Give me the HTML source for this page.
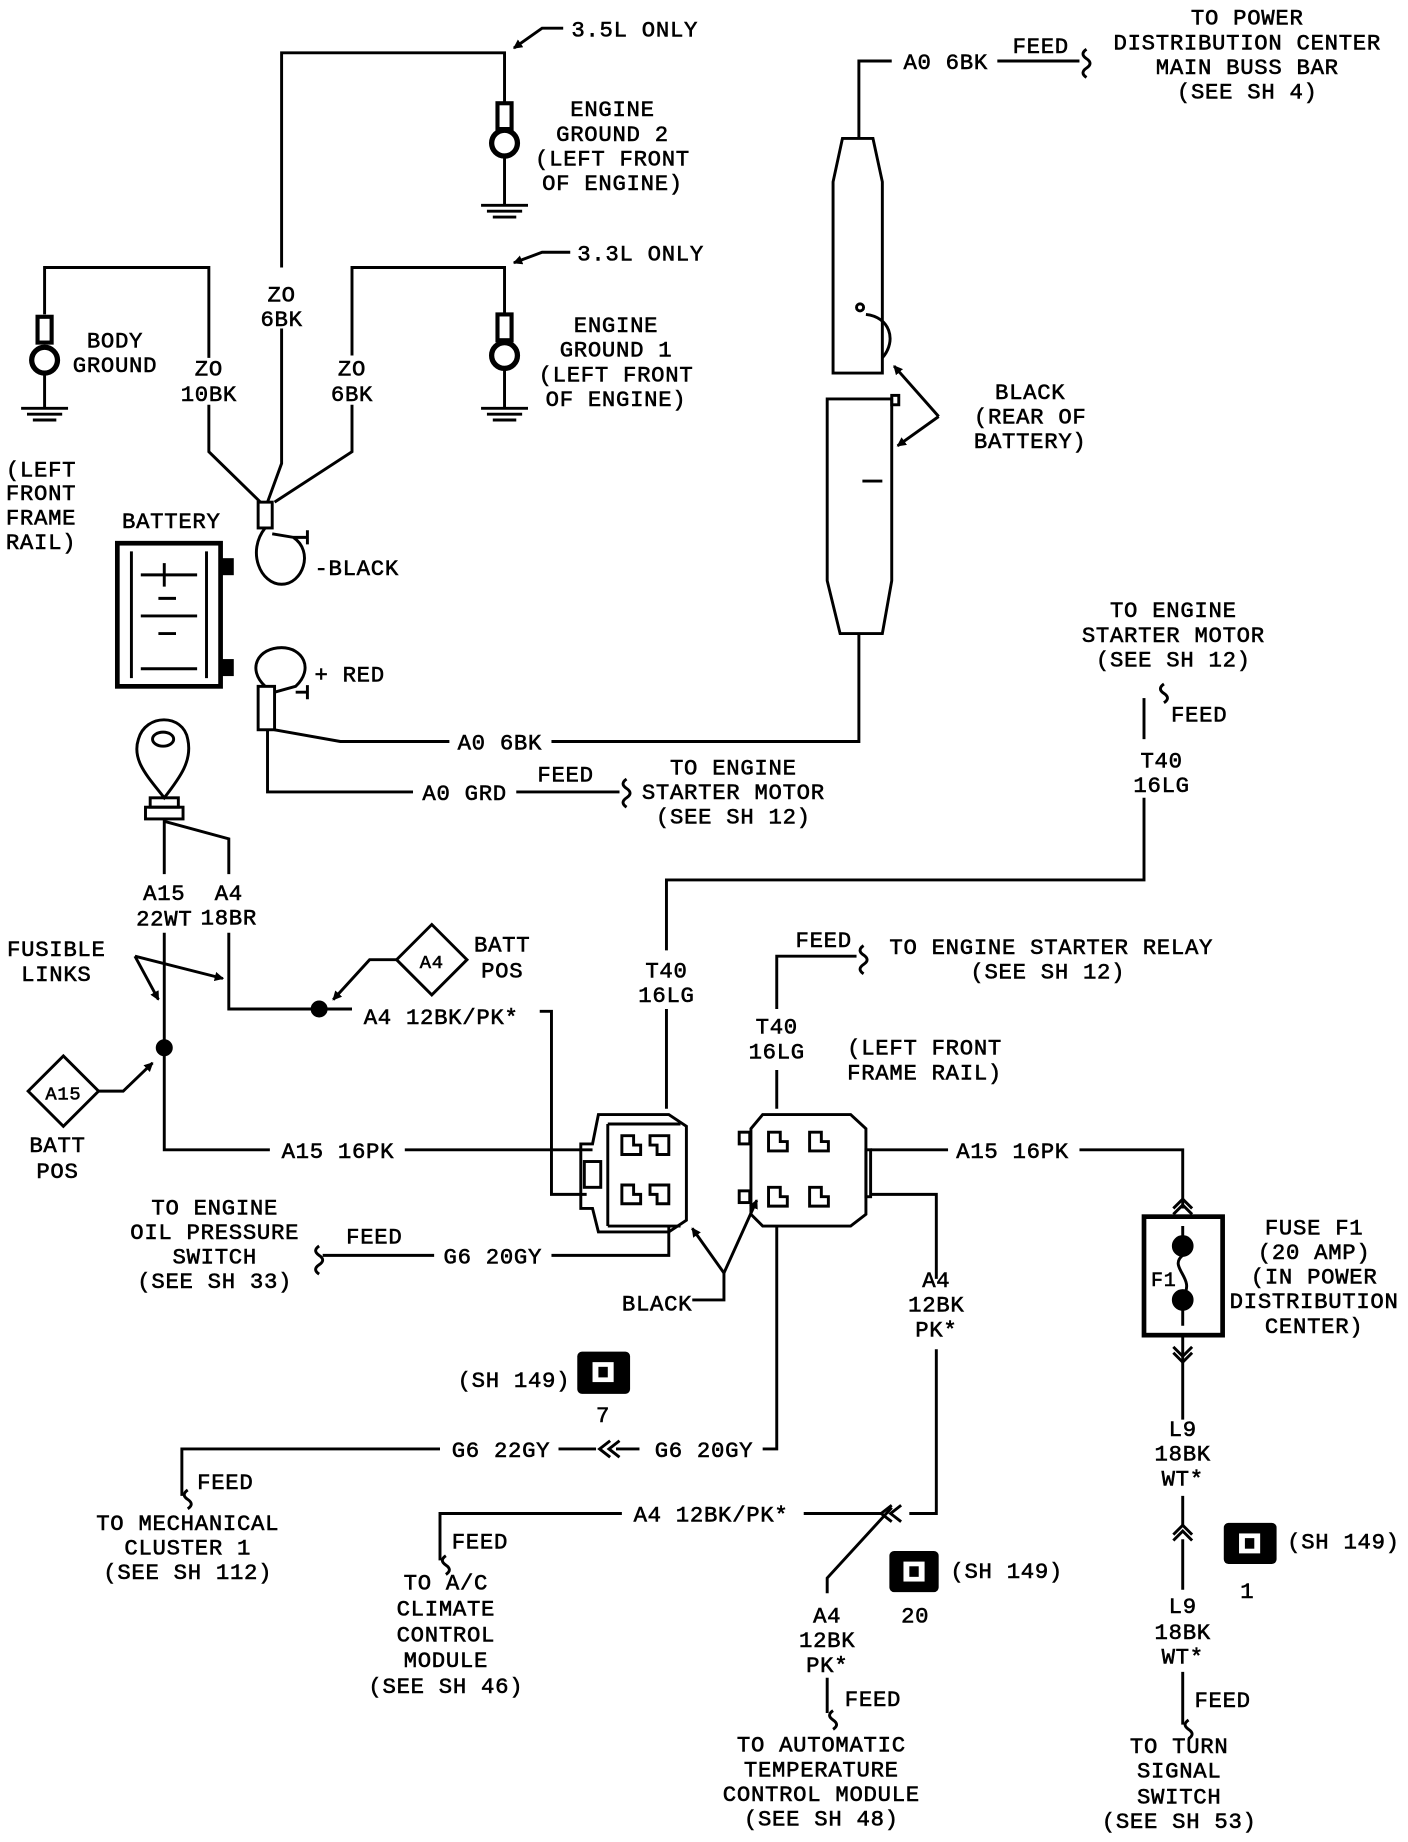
<!DOCTYPE html>
<html><head><meta charset="utf-8"><style>
html,body{margin:0;padding:0;background:#fff;}
svg{display:block;}
text{font-family:"Liberation Mono",monospace;font-size:19px;letter-spacing:0.6px;fill:#000;stroke:#000;stroke-width:0.5px;}
.c{text-anchor:middle;}
</style></head><body>
<svg width="1408" height="1842" viewBox="0 0 1200 1570" preserveAspectRatio="none" xmlns="http://www.w3.org/2000/svg">
<defs>
<marker id="ar" markerWidth="8" markerHeight="8" refX="7" refY="4" orient="auto" markerUnits="userSpaceOnUse"><path d="M0,0 L8,4 L0,8 z" fill="#000"/></marker>
</defs>
<g fill="none" stroke="#000" stroke-width="2.5">
<path d="M240,228 V45 H430 V88"/>
<path d="M480,24 H462 L438,41" marker-end="url(#ar)"/>
<path d="M300,303 V228 H430 V268"/>
<path d="M486,215 H462 L438,224" marker-end="url(#ar)"/>
<path d="M240,280 V395 L228,428"/>
<path d="M178,305 V228 H38 V268"/>
<path d="M178,345 V385 L222,428"/>
<path d="M300,345 V385 L234,428"/>
<rect x="424" y="88" width="12" height="22" stroke-width="3.5"/><circle cx="430" cy="122" r="11" stroke-width="4.5"/>
<path d="M430,134 V175 M410,175 H450 M415,180 H445 M420,185 H440"/>
<rect x="424" y="268" width="12" height="22" stroke-width="3.5"/><circle cx="430" cy="303" r="11" stroke-width="4.5"/>
<path d="M430,315 V348 M410,348 H450 M415,353 H445 M420,358 H440"/>
<rect x="32" y="270" width="12" height="22" stroke-width="3.5"/><circle cx="38" cy="307" r="11" stroke-width="4.5"/>
<path d="M38,319 V348 M18,348 H58 M23,353 H53 M28,358 H48"/>
<rect x="220" y="428" width="12" height="22"/>
<path d="M226,450 C210,470 222,498 240,498 C258,498 268,470 250,458 L232,455"/>
<path d="M250,458 H262 M262,452 V464"/>
<rect x="100" y="463" width="88" height="122" stroke-width="4"/>
<path d="M112,470 V578 M176,470 V578 M120,490 H168 M135,510 H150 M120,525 H168 M135,540 H150 M140,480 V500 M120,570 H168"/>
<rect x="188" y="477" width="10" height="12" fill="#000"/><rect x="188" y="563" width="10" height="12" fill="#000"/>
<path d="M226,585 C210,570 220,552 240,552 C258,552 268,570 252,585 L234,590"/>
<rect x="220" y="585" width="14" height="37"/>
<path d="M252,590 H262 M262,584 V596"/>
<path d="M228,622 V675 H352"/>
<path d="M440,675 H528"/>
<path d="M534,664 q-6,4 0,8 q6,4 0,8 q-6,4 0,8"/>
<path d="M234,622 L290,632 H383"/>
<path d="M470,632 H732 V540"/>
<path d="M705,340 H760 V495 L752,540 H716 L705,495 Z"/>
<rect x="760" y="337" width="6" height="8"/>
<path d="M735,410 H752"/>
<path d="M718,118 H744 L752,155 V318 H710 V155 Z"/>
<circle cx="733" cy="262" r="3"/>
<path d="M738,268 C758,270 765,290 752,305"/>
<path d="M732,118 V52 H760"/>
<path d="M850,52 H920"/>
<path d="M926,42 q-6,4 0,8 q6,4 0,8 q-6,4 0,8"/>
<path d="M800,355 L762,312" marker-end="url(#ar)"/>
<path d="M800,355 L765,380" marker-end="url(#ar)"/>
<path d="M140,680 C126,662 112,648 118,630 C124,608 156,608 160,630 C164,648 154,662 140,680 Z"/>
<ellipse cx="139" cy="630" rx="9" ry="6"/>
<rect x="128" y="680" width="24" height="8"/><rect x="124" y="688" width="32" height="10"/>
<path d="M140,698 V745 M140,795 V980 H230"/>
<path d="M345,980 H505"/>
<path d="M140,700 L195,715 V745 M195,795 V860 H300"/>
<circle cx="272" cy="860" r="6" fill="#000"/>
<circle cx="140" cy="893" r="6" fill="#000"/>
<path d="M460,862 H470 V1018 H500"/>
<path d="M54,900 L84,930 L54,960 L24,930 Z"/>
<path d="M84,930 H105 L130,906" marker-end="url(#ar)"/>
<path d="M368,788 L398,818 L368,848 L338,818 Z"/>
<path d="M338,818 H315 L284,852" marker-end="url(#ar)"/>
<path d="M115,815 L135,852" marker-end="url(#ar)"/>
<path d="M115,815 L190,834" marker-end="url(#ar)"/>
<path d="M510,950 H570 L585,960 V1040 L570,1050 H510 L505,1030 H495 V975 H505 Z"/>
<path d="M518,958 H580 M518,1045 H580 M518,958 V1045"/>
<path d="M530,968 h10 v8 h6 v8 h-16 z M560,968 h10 v16 h-10 v-8 h-6 v-8 z M530,1010 h10 v8 h6 v8 h-16 z M560,1010 h10 v16 h-10 v-8 h-6 v-8 z"/>
<rect x="498" y="990" width="14" height="22"/>
<path d="M568,945 V860 M568,810 V750 H975 V680"/>
<path d="M975,630 V595"/>
<path d="M992,583 q-6,4 0,8 q6,4 0,8"/>
<path d="M650,950 H725 L738,962 V1035 L725,1045 H650 L640,1035 V962 Z"/>
<rect x="630" y="965" width="9" height="10"/><rect x="630" y="1015" width="9" height="10"/>
<rect x="738" y="980" width="4" height="40"/>
<path d="M655,965 h10 v8 h6 v8 h-16 z M690,965 h10 v8 h6 v8 h-16 z M655,1012 h10 v8 h6 v8 h-16 z M690,1012 h10 v8 h6 v8 h-16 z"/>
<path d="M742,980 H808 M920,980 H1008 V1030"/>
<path d="M742,1018 H798 V1090 M798,1150 V1290 H775"/>
<path d="M662,945 V912 M662,860 V815 H730"/>
<path d="M736,806 q-6,4 0,8 q6,4 0,8 q-6,4 0,8"/>
<path d="M662,1045 V1235 H650 M545,1235 H525 M476,1235 H508 M375,1235 H155 V1275"/>
<path d="M520,1228 L511,1235 L520,1242 M528,1228 L519,1235 L528,1242"/>
<path d="M160,1270 q-6,4 0,8 q6,4 0,8"/>
<path d="M768,1283 L759,1290 L768,1297 M760,1283 L751,1290 L760,1297"/>
<path d="M752,1290 H685 M530,1290 H375 V1330"/>
<path d="M380,1326 q-6,4 0,8 q6,4 0,8"/>
<path d="M760,1285 L705,1345 V1358 M705,1430 V1460"/>
<path d="M710,1458 q-6,4 0,8 q6,4 0,8"/>
<path d="M570,1045 V1070 H470 M370,1070 H275"/>
<path d="M272,1062 q-6,4 0,8 q6,4 0,8 q-6,4 0,8"/>
<path d="M590,1108 H617 V1085"/>
<path d="M617,1085 L590,1047" marker-end="url(#ar)"/>
<path d="M617,1085 L645,1023" marker-end="url(#ar)"/>
<path d="M1000,1035 L1008,1027 L1016,1035 M1000,1030 L1008,1022 L1016,1030"/>
<rect x="975" y="1037" width="67" height="101" stroke-width="4"/>
<path d="M1008,1045 V1060 M1008,1115 V1130 M1008,1070 C995,1080 1020,1090 1008,1105"/>
<circle cx="1008" cy="1062" r="8" fill="#000"/><circle cx="1008" cy="1108" r="8" fill="#000"/>
<path d="M1000,1148 L1008,1156 L1016,1148 M1000,1153 L1008,1161 L1016,1153"/>
<path d="M1008,1140 V1210 M1008,1275 V1300 M1008,1312 V1355 M1008,1425 V1470"/>
<path d="M1000,1308 L1008,1300 L1016,1308 M1000,1313 L1008,1305 L1016,1313"/>
<path d="M1013,1466 q-6,4 0,8 q6,4 0,8"/>
</g>
<g>
<rect x="492" y="1152" width="45" height="36" rx="4" fill="#000"/><rect x="505" y="1161" width="18" height="17" fill="#fff"/><rect x="510" y="1165" width="8" height="9" fill="#000"/>
<rect x="758" y="1322" width="42" height="35" rx="4" fill="#000"/><rect x="770" y="1331" width="18" height="17" fill="#fff"/><rect x="775" y="1335" width="8" height="9" fill="#000"/>
<rect x="1043" y="1298" width="45" height="35" rx="4" fill="#000"/><rect x="1056" y="1307" width="18" height="17" fill="#fff"/><rect x="1061" y="1311" width="8" height="9" fill="#000"/>
</g>
<g>
<text x="487" y="31">3.5L ONLY</text>
<text x="492" y="222">3.3L ONLY</text>
<text class="c" x="522" y="99">ENGINE</text><text class="c" x="522" y="120">GROUND 2</text><text class="c" x="522" y="141">(LEFT FRONT</text><text class="c" x="522" y="162">OF ENGINE)</text>
<text class="c" x="525" y="283">ENGINE</text><text class="c" x="525" y="304">GROUND 1</text><text class="c" x="525" y="325">(LEFT FRONT</text><text class="c" x="525" y="346">OF ENGINE)</text>
<text class="c" x="240" y="257">ZO</text><text class="c" x="240" y="278">6BK</text>
<text class="c" x="178" y="320">ZO</text><text class="c" x="178" y="342">10BK</text>
<text class="c" x="300" y="320">ZO</text><text class="c" x="300" y="342">6BK</text>
<text class="c" x="98" y="296">BODY</text><text class="c" x="98" y="317">GROUND</text>
<text x="5" y="406">(LEFT</text><text x="5" y="426">FRONT</text><text x="5" y="447">FRAME</text><text x="5" y="468">RAIL)</text>
<text class="c" x="146" y="450">BATTERY</text>
<text x="268" y="490">-BLACK</text>
<text x="268" y="581">+ RED</text>
<text x="390" y="639">A0 6BK</text>
<text x="360" y="682">A0 GRD</text>
<text x="458" y="666">FEED</text>
<text class="c" x="625" y="660">TO ENGINE</text><text class="c" x="625" y="681">STARTER MOTOR</text><text class="c" x="625" y="702">(SEE SH 12)</text>
<text x="770" y="59">A0 6BK</text>
<text x="863" y="45">FEED</text>
<text class="c" x="1063" y="21">TO POWER</text><text class="c" x="1063" y="42">DISTRIBUTION CENTER</text><text class="c" x="1063" y="63">MAIN BUSS BAR</text><text class="c" x="1063" y="84">(SEE SH 4)</text>
<text class="c" x="878" y="340">BLACK</text><text class="c" x="878" y="361">(REAR OF</text><text class="c" x="878" y="382">BATTERY)</text>
<text class="c" x="1000" y="526">TO ENGINE</text><text class="c" x="1000" y="547">STARTER MOTOR</text><text class="c" x="1000" y="568">(SEE SH 12)</text>
<text x="998" y="615">FEED</text>
<text class="c" x="990" y="654">T40</text><text class="c" x="990" y="675">16LG</text>
<text class="c" x="140" y="767">A15</text><text class="c" x="140" y="789">22WT</text>
<text class="c" x="195" y="767">A4</text><text class="c" x="195" y="788">18BR</text>
<text class="c" x="48" y="815">FUSIBLE</text><text class="c" x="48" y="836">LINKS</text>
<text class="c" x="54" y="937" style="font-size:16px">A15</text>
<text class="c" x="49" y="982">BATT</text><text class="c" x="49" y="1004">POS</text>
<text class="c" x="368" y="825" style="font-size:16px">A4</text>
<text class="c" x="428" y="811">BATT</text><text class="c" x="428" y="833">POS</text>
<text x="310" y="873">A4 12BK/PK*</text>
<text x="240" y="987">A15 16PK</text>
<text class="c" x="568" y="833">T40</text><text class="c" x="568" y="854">16LG</text>
<text class="c" x="662" y="881">T40</text><text class="c" x="662" y="902">16LG</text>
<text x="678" y="807">FEED</text>
<text x="758" y="813">TO ENGINE STARTER RELAY</text>
<text class="c" x="893" y="834">(SEE SH 12)</text>
<text class="c" x="788" y="899">(LEFT FRONT</text><text class="c" x="788" y="920">FRAME RAIL)</text>
<text x="815" y="987">A15 16PK</text>
<text class="c" x="1120" y="1052">FUSE F1</text><text class="c" x="1120" y="1073">(20 AMP)</text><text class="c" x="1120" y="1094">(IN POWER</text><text class="c" x="1120" y="1115">DISTRIBUTION</text><text class="c" x="1120" y="1136">CENTER)</text>
<text x="981" y="1096" style="font-size:17px">F1</text>
<text class="c" x="183" y="1035">TO ENGINE</text><text class="c" x="183" y="1056">OIL PRESSURE</text><text class="c" x="183" y="1077">SWITCH</text><text class="c" x="183" y="1098">(SEE SH 33)</text>
<text x="295" y="1060">FEED</text>
<text x="378" y="1077">G6 20GY</text>
<text x="530" y="1117">BLACK</text>
<text class="c" x="798" y="1097">A4</text><text class="c" x="798" y="1118">12BK</text><text class="c" x="798" y="1139">PK*</text>
<text x="390" y="1182">(SH 149)</text>
<text class="c" x="514" y="1212">7</text>
<text x="385" y="1242">G6 22GY</text>
<text x="558" y="1242">G6 20GY</text>
<text x="168" y="1269">FEED</text>
<text class="c" x="160" y="1304">TO MECHANICAL</text><text class="c" x="160" y="1325">CLUSTER 1</text><text class="c" x="160" y="1346">(SEE SH 112)</text>
<text x="540" y="1297">A4 12BK/PK*</text>
<text x="385" y="1320">FEED</text>
<text class="c" x="380" y="1355">TO A/C</text><text class="c" x="380" y="1377">CLIMATE</text><text class="c" x="380" y="1399">CONTROL</text><text class="c" x="380" y="1421">MODULE</text><text class="c" x="380" y="1443">(SEE SH 46)</text>
<text x="810" y="1345">(SH 149)</text>
<text class="c" x="780" y="1383">20</text>
<text class="c" x="705" y="1383">A4</text><text class="c" x="705" y="1404">12BK</text><text class="c" x="705" y="1425">PK*</text>
<text x="720" y="1454">FEED</text>
<text class="c" x="700" y="1493">TO AUTOMATIC</text><text class="c" x="700" y="1514">TEMPERATURE</text><text class="c" x="700" y="1535">CONTROL MODULE</text><text class="c" x="700" y="1556">(SEE SH 48)</text>
<text class="c" x="1008" y="1224">L9</text><text class="c" x="1008" y="1245">18BK</text><text class="c" x="1008" y="1266">WT*</text>
<text x="1097" y="1320">(SH 149)</text>
<text class="c" x="1063" y="1362">1</text>
<text class="c" x="1008" y="1375">L9</text><text class="c" x="1008" y="1397">18BK</text><text class="c" x="1008" y="1418">WT*</text>
<text x="1018" y="1455">FEED</text>
<text class="c" x="1005" y="1494">TO TURN</text><text class="c" x="1005" y="1515">SIGNAL</text><text class="c" x="1005" y="1537">SWITCH</text><text class="c" x="1005" y="1558">(SEE SH 53)</text>
</g>
</svg>
</body></html>
